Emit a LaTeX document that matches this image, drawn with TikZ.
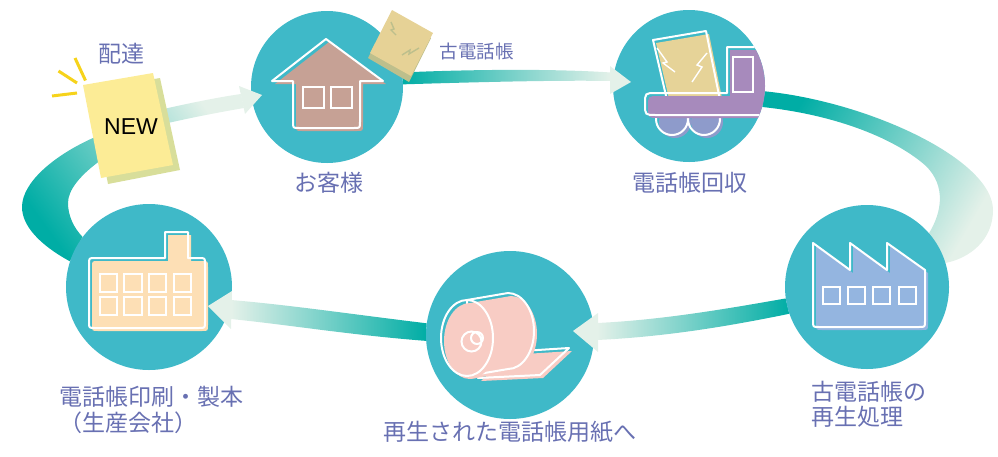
\documentclass[tikz,border=0pt]{standalone}
\usepackage{fontspec}
\setmainfont{Noto Sans CJK JP}
\newfontfamily\latinsans{Liberation Sans}
\usetikzlibrary{backgrounds}

\definecolor{stagecol}{HTML}{3FB9C8}
\definecolor{bandteal}{HTML}{00ADA5}
\definecolor{bandpale}{HTML}{E4F1E9}
\definecolor{labelcol}{HTML}{6870B2}
\definecolor{housecol}{HTML}{C6A195}
\definecolor{cargocol}{HTML}{E6D398}
\definecolor{truckcol}{HTML}{A78ABC}
\definecolor{wheelcol}{HTML}{8E9BCB}
\definecolor{millcol}{HTML}{94B5E0}
\definecolor{rollcol}{HTML}{F8CCC4}
\definecolor{presscol}{HTML}{FDDFB5}
\definecolor{newcol}{HTML}{FCEC96}
\definecolor{newedge}{HTML}{D8DE9A}
\definecolor{oldcol}{HTML}{E6D296}
\definecolor{oldedge}{HTML}{BDBF8C}
\definecolor{raycol}{HTML}{F6D31B}

\begin{document}
\begin{tikzpicture}
 [x=1pt, y=-1pt,
  stage node/.style={circle, fill=stagecol, inner sep=0pt, minimum size=#1},
  caption node/.style={text=labelcol, inner sep=0pt, font=\fontsize{23}{26}\selectfont},
  icon/.style={preaction={fill=#1, transform canvas={shift={(3pt,-3pt)}}}, draw=white, line width=2pt, line join=round},
  window/.style={draw=white, line width=2pt}]
\useasboundingbox (0,0) rectangle (998,456);

\node[stage node=152] (home) at (327,87) {};
\node[stage node=152] (pickup) at (689,86) {};
\node[stage node=164] (mill) at (867,287) {};
\node[stage node=168] (roll) at (510,335) {};
\node[stage node=166] (press) at (149,287) {};

% bands between the stages
\begin{pgfonlayer}{background}
\path[left color=bandteal, right color=bandpale]
  (home.11) .. controls (480,69) and (560,69) .. (611,72.5)
  -- (611,81) .. controls (560,80) and (480,82) .. (home.2) -- cycle;
\path[top color=bandpale, bottom color=bandteal, shading angle=-120]
  (pickup.-4) .. controls (870,102) and (993,160) .. (993,210)
  .. controls (993,240) and (970,258) .. (mill.17)
  -- (mill.41) .. controls (942,212) and (946,186) .. (926,166)
  .. controls (892,136) and (830,114) .. (pickup.-16) -- cycle;
\path[left color=bandpale, right color=bandteal]
  (mill.188) .. controls (720,310) and (660,320) .. (597,323)
  -- (597,340) .. controls (660,337) and (720,328) .. (mill.199) -- cycle;
\path[left color=bandpale, right color=bandteal]
  (roll.172) .. controls (350,314) and (290,305) .. (231,300)
  -- (231,319) .. controls (290,325) and (350,335) .. (roll.184) -- cycle;
\path[top color=bandpale, bottom color=bandteal, shading angle=-54]
  (press.162) .. controls (40,245) and (22,226) .. (22,207)
  .. controls (22,182) and (55,155) .. (93,138)
  .. controls (120,125) and (145,114) .. (168,108)
  .. controls (195,102) and (220,97) .. (241,94)
  -- (244,108) .. controls (215,113) and (190,118) .. (168,123)
  .. controls (140,131) and (115,147) .. (97,163)
  .. controls (80,176) and (68,190) .. (68,203)
  .. controls (68,216) and (74,228) .. (press.143) -- cycle;
\end{pgfonlayer}

% arrow heads
\fill[bandpale] (610,66) -- (631,82) -- (610,94) -- cycle;
\fill[bandpale] (598,313) -- (573,331) -- (598,352) -- cycle;
\fill[bandpale] (232,291) -- (208,306) -- (231,329) -- cycle;
\fill[bandpale] (239,86) -- (262,95) -- (245,114) -- cycle;

% house
\draw[icon=housecol] (272,81) -- (326,39) -- (383,81) -- (360,81) -- (360,122)
  .. controls (360,128) .. (354,128) -- (299,128) .. controls (293,128) .. (293,122)
  -- (293,81) -- cycle;
\draw[window] (303,87) rectangle (324,108) (331,87) rectangle (352,108);

% old phone book
\fill[oldedge] (368,58) -- (390,15) -- (431,38) -- (409,82) -- cycle;
\fill[oldcol] (370,53) -- (392,10) -- (433,33) -- (411,76) -- cycle;
\draw[oldedge, line width=1.4pt] (391,22) -- (394,29) -- (391,30) -- (396,35)
  (402,55) -- (410,50) -- (409,54) -- (419,48);

% truck
\begin{scope}
\clip (pickup.center) circle[radius=76];
\draw[icon=cargocol] (653,40) -- (706,31) -- (720,100) -- (667,100) -- cycle;
\draw[white, line width=1.4pt] (657,48) -- (667,62) -- (663,63) -- (675,72)
  (707,53) -- (697,65) -- (702,67) -- (692,82);
\draw[icon=wheelcol] (672,119) circle[radius=16] (704,119) circle[radius=16];
\draw[icon=truckcol] (727,93) -- (656,93) .. controls (645,93) .. (645,104)
  .. controls (645,115) .. (656,115) -- (780,115) -- (780,47) -- (727,47) -- cycle;
\draw[window] (733,57) rectangle (753,92);
\end{scope}

% paper mill
\draw[icon=millcol] (813,243) -- (850,270) -- (850,243) -- (887,270) -- (887,243)
  -- (925,270) -- (925,321) .. controls (925,327) .. (919,327) -- (819,327)
  .. controls (813,327) .. (813,321) -- cycle;
\foreach \i in {0,...,3}
  \draw[window] ({823+25.2*\i},287) rectangle ++(17,17);

% paper roll
\draw[icon=rollcol] (478,378) -- (506,352) -- (569,348) -- (540,375) -- cycle;
\draw[icon=rollcol] (467,300) -- (508,293)
  arc[start angle=-90, end angle=90, x radius=26, y radius=38] -- (467,376) -- cycle;
\draw[icon=rollcol] (467,338) ellipse[x radius=26, y radius=38];
\draw[window] (471.5,341.5) circle[radius=10] (477,338) circle[radius=6];

% printing plant
\draw[icon=presscol] (89,264) .. controls (89,258) .. (95,258) -- (165,258) -- (165,232)
  -- (188,232) -- (188,258) -- (199,258) .. controls (205,258) .. (205,264) -- (205,322)
  .. controls (205,328) .. (199,328) -- (95,328) .. controls (89,328) .. (89,322) -- cycle;
\foreach \x in {99.5,124,148.5,173.5}
  \foreach \y in {273.5,297}
    \draw[window] (\x,\y) rectangle ++(17.5,18);

% new phone book
\fill[newedge] (90,90) -- (160,78) -- (180,170) -- (108,184) -- cycle;
\fill[newcol] (83,85) -- (153,73) -- (173,165) -- (101,178) -- cycle;
\node[font=\latinsans\fontsize{23}{23}\selectfont] (new) at (131,127) {NEW};
\draw[raycol, line width=3pt] (75,58) -- (85.5,80.5) (58.5,71) -- (77,83) (52,96) -- (77,93);

% captions
\node[caption node] (deliver) at (121,54) {配達};
\node[caption node] (homecap) at (329,182.5) {お客様};
\node[caption node, font=\fontsize{18.5}{20}\selectfont] (oldcap) at (476.5,51) {古電話帳};
\node[caption node] (pickcap) at (690,182.5) {電話帳回収};
\node[caption node, align=left, anchor=west] (millcap) at (811,404) {古電話帳の\\[-1pt]再生処理};
\node[caption node] (rollcap) at (510,432) {再生された電話帳用紙へ};
\node[caption node, align=left, anchor=west] (presscap) at (59,410) {電話帳印刷・製本\\[0.6pt]（生産会社）};

\end{tikzpicture}
\end{document}
